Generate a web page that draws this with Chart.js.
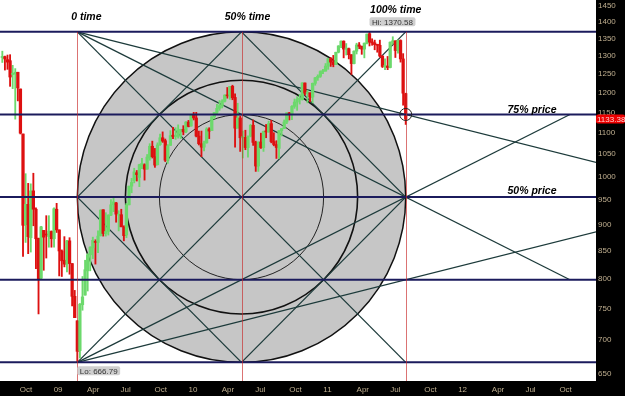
<!DOCTYPE html>
<html>
<head>
<meta charset="utf-8">
<script src="https://cdn.jsdelivr.net/npm/chart.js@4.4.0/dist/chart.umd.min.js"></script>
<style>
html, body { margin: 0; padding: 0; background: #000; }
</style>
</head>
<body>
<canvas id="myChart" width="625" height="396"></canvas>
<script>
// S&P 500 weekly bars, first bar = week ending 2008-08-15
const firstWeek = "2008-08-15";

const opens = [
  1296,1298,1290,1287,1249,1250,1255,1210,1097,900,
  941,875,969,931,874,801,889,882,877,887,
  873,931,890,850,833,826,869,827,770,730,
  684,756,772,814,843,856,868,866,879,930,
  883,887,919,940,944,919,920,895,880,940,
  979,991,1008,998,1026,1026,1016,1041,1068,1044,
  1026,1072,1088,1081,1036,1070,1094,1091,1091,1106,
  1108,1102,1126,1116,1145,1136,1092,1074,1066,1076,
  1109,1105,1139,1150,1160,1167,1178,1194,1192,1217,
  1188,1111,1136,1088,1089,1065,1092,1118,1077,1023,
  1078,1065,1103,1102,1122,1079,1072,1063,1105,1110,
  1126,1149,1146,1165,1176,1183,1183,1226,1199,1200,
  1189,1225,1240,1244,1257,1258,1272,1293,1283,1276,
  1311,1329,1343,1320,1321,1304,1279,1314,1332,1328,
  1320,1337,1365,1340,1338,1333,1331,1300,1271,1272,
  1268,1340,1344,1316,1345,1292,1198
];
const highs = [
  1314,1300,1303,1304,1274,1265,1255,1210,1097,1006,
  985,984,1007,934,874,897,889,918,918,888,
  934,943,890,852,877,870,875,827,780,730,
  758,804,833,845,858,876,871,888,930,930,
  924,920,951,956,945,928,931,898,943,979,
  996,1018,1013,1027,1040,1028,1049,1074,1080,1063,
  1076,1097,1102,1085,1072,1105,1113,1112,1119,1108,
  1117,1127,1130,1145,1150,1150,1104,1104,1080,1112,
  1112,1139,1150,1170,1180,1182,1195,1214,1217,1220,
  1197,1173,1141,1104,1106,1092,1120,1131,1080,1078,
  1099,1104,1120,1128,1130,1100,1081,1105,1110,1131,
  1149,1150,1167,1184,1190,1196,1227,1226,1207,1200,
  1226,1241,1248,1259,1263,1279,1294,1296,1302,1311,
  1330,1344,1344,1336,1323,1304,1315,1337,1339,1329,
  1338,1364,1370.58,1350,1346,1334,1346,1301,1292,1299,
  1341,1356,1344,1347,1347,1307,1199
];
const lows = [
  1282,1261,1263,1217,1211,1133,1179,1097,840,866,
  845,848,898,818,741,800,815,837,857,857,
  857,885,805,804,821,812,808,754,735,666.79,
  673,747,772,779,814,836,826,847,878,878,
  878,880,918,926,905,888,896,869,875,940,
  965,986,990,978,1017,992,1016,1036,1041,1020,
  1025,1070,1077,1033,1029,1070,1086,1084,1087,1086,
  1095,1100,1114,1116,1131,1090,1071,1044,1057,1075,
  1086,1105,1134,1145,1155,1161,1176,1186,1183,1182,
  1066,1111,1056,1041,1060,1043,1090,1070,1011,1011,
  1063,1056,1088,1101,1076,1069,1040,1040,1092,1110,
  1122,1131,1132,1160,1155,1171,1181,1194,1174,1177,
  1174,1220,1233,1241,1251,1258,1263,1271,1270,1276,
  1309,1324,1295,1303,1292,1249,1278,1306,1321,1305,
  1295,1335,1329,1331,1318,1311,1297,1268,1262,1262,
  1267,1334,1296,1308,1283,1168,1120
];
const closes = [
  1298,1292,1283,1242,1252,1255,1213,1099,899,941,
  877,969,931,873,800,896,876,880,888,873,
  932,890,850,832,826,869,827,770,735,683,
  757,769,816,843,857,870,866,878,929,883,
  887,919,940,946,921,919,896,879,940,979,
  987,1010,1004,1026,1029,1016,1043,1068,1044,1025,
  1071,1088,1080,1036,1069,1093,1091,1091,1106,1106,
  1102,1126,1115,1145,1136,1092,1074,1066,1076,1109,
  1104,1139,1150,1160,1167,1178,1194,1192,1217,1187,
  1111,1136,1088,1089,1065,1092,1118,1077,1023,1078,
  1065,1103,1102,1122,1079,1072,1065,1105,1110,1126,
  1149,1146,1165,1176,1183,1183,1226,1199,1200,1189,
  1225,1240,1244,1257,1258,1272,1293,1283,1276,1311,
  1329,1343,1320,1321,1304,1279,1314,1332,1328,1320,
  1337,1364,1340,1338,1333,1331,1300,1271,1272,1268,
  1340,1344,1316,1345,1292,1199,1133.38
];

// axis ticks
const priceTicks = [650,700,750,800,850,900,950,1000,1050,1100,1150,1200,1250,1300,1350,1400,1450];
const timeTicks = [
  "2008-10-01","2009-01-01","2009-04-01","2009-07-01","2009-10-01",
  "2010-01-01","2010-04-01","2010-07-01","2010-10-01",
  "2011-01-01","2011-04-01","2011-07-01","2011-10-01",
  "2012-01-01","2012-04-01","2012-07-01","2012-10-01"
];
const timeTickLabels = ["Oct","09","Apr","Jul","Oct","10","Apr","Jul","Oct","11","Apr","Jul","Oct","12","Apr","Jul","Oct"];

// Gann square: time from low bar to last bar, price from low to high
const hiPrice = 1370.58;
const loPrice = 666.79;
const lastPrice = 1133.38;
const time0 = "2009-03-06";
const time100 = "2011-08-12";
const levelFractions = [0, 0.25, 0.5, 0.75, 1];

// visible window (days from 2009-01-01, price)
const xMin = -145.3, xMax = 1468.1;
const yMin = 640.2, yMax = 1469.1;

const UP = "#6cd96c";
const DOWN = "#dd1010";
const TICK_COLOR = "#bfae8f";

function dayOf(str) {
    return (Date.parse(str) - Date.UTC(2009, 0, 1)) / 86400000;
}

const week0 = dayOf(firstWeek);
const candleColors = closes.map((c, i) => c >= opens[i] ? UP : DOWN);
const wickData = highs.map((h, i) => ({ x: week0 + 7 * i, y: [lows[i], h] }));
const bodyData = closes.map((c, i) => ({ x: week0 + 7 * i, y: [opens[i], c] }));

function extend(a, b, yTarget) {
    const t = (yTarget - a.y) / (b.y - a.y);
    return { x: a.x + t * (b.x - a.x), y: yTarget };
}

function geometry(chart) {
    const xs = chart.scales.x;
    const ys = chart.scales.y;
    const t0 = xs.getPixelForValue(dayOf(time0));
    const t100 = xs.getPixelForValue(dayOf(time100));
    const lv = levelFractions.map(f =>
        ys.getPixelForValue(loPrice * Math.pow(hiPrice / loPrice, f)));
    return { t0, t100, tm: (t0 + t100) / 2, lv };
}

function line(ctx, a, b) {
    ctx.beginPath();
    ctx.moveTo(a.x, a.y);
    ctx.lineTo(b.x, b.y);
    ctx.stroke();
}

function tag(ctx, text, x, y, bg, fg) {
    ctx.font = "8px 'Liberation Sans', Arial, sans-serif";
    const w = ctx.measureText(text).width + 5;
    ctx.fillStyle = bg;
    ctx.beginPath();
    ctx.roundRect(x, y - 4.5, w, 9, 2);
    ctx.fill();
    ctx.fillStyle = fg;
    ctx.textAlign = "left";
    ctx.textBaseline = "middle";
    ctx.fillText(text, x + 2.5, y + 0.5);
}

const gannPlugin = {
    id: "gann",

    beforeDraw(chart) {
        const { ctx, chartArea: a } = chart;
        ctx.save();
        ctx.fillStyle = "#000";
        ctx.fillRect(0, 0, chart.width, chart.height);
        ctx.fillStyle = "#fff";
        ctx.fillRect(a.left, a.top, a.right - a.left, a.bottom - a.top);
        ctx.restore();
    },

    beforeDatasetsDraw(chart) {
        const { ctx, chartArea: a } = chart;
        const { t0, t100, tm, lv } = geometry(chart);
        const rx = (t100 - t0) / 2;
        const ry = (lv[0] - lv[4]) / 2;

        ctx.save();
        ctx.beginPath();
        ctx.rect(a.left, a.top, a.right - a.left, a.bottom - a.top);
        ctx.clip();

        // circles
        ctx.beginPath();
        ctx.ellipse(tm, lv[2], rx, ry, 0, 0, Math.PI * 2);
        ctx.fillStyle = "#c6c6c6";
        ctx.fill();
        ctx.strokeStyle = "#111";
        ctx.lineWidth = 1.5;
        ctx.stroke();

        ctx.beginPath();
        ctx.ellipse(tm, lv[2], rx / Math.SQRT2, ry / Math.SQRT2, 0, 0, Math.PI * 2);
        ctx.lineWidth = 1.6;
        ctx.stroke();

        ctx.beginPath();
        ctx.ellipse(tm, lv[2], rx / 2, ry / 2, 0, 0, Math.PI * 2);
        ctx.lineWidth = 0.9;
        ctx.stroke();

        // diamond, diagonals and fans
        ctx.strokeStyle = "#1c3a3a";
        ctx.lineWidth = 1.3;
        const P = (x, y) => ({ x, y });
        line(ctx, P(t0, lv[2]), P(tm, lv[4]));
        line(ctx, P(tm, lv[4]), P(t100, lv[2]));
        line(ctx, P(t100, lv[2]), P(tm, lv[0]));
        line(ctx, P(tm, lv[0]), P(t0, lv[2]));
        line(ctx, P(t0, lv[4]), P(t100, lv[0]));
        line(ctx, P(t0, lv[0]), P(t100, lv[4]));

        const top = P(t0, lv[4]);
        const bot = P(t0, lv[0]);
        line(ctx, top, extend(top, P(t100, lv[3]), lv[2]));
        line(ctx, top, extend(top, P(t100, lv[2]), lv[1]));
        line(ctx, bot, extend(bot, P(t100, lv[1]), lv[2]));
        line(ctx, bot, extend(bot, P(t100, lv[2]), lv[3]));

        ctx.restore();
    },

    afterDatasetsDraw(chart) {
        const { ctx, chartArea: a } = chart;
        const { t0, t100, tm, lv } = geometry(chart);

        ctx.save();

        // price levels
        ctx.strokeStyle = "#1b1b5c";
        ctx.lineWidth = 2;
        lv.forEach(y => line(ctx, { x: a.left, y }, { x: a.right, y }));

        // time lines
        ctx.strokeStyle = "rgba(200,40,40,0.65)";
        ctx.lineWidth = 1;
        [t0, tm, t100].forEach(x =>
            line(ctx, { x: Math.round(x) + 0.5, y: lv[4] }, { x: Math.round(x) + 0.5, y: a.bottom }));

        // marker at 100% time / 75% price
        ctx.strokeStyle = "#222";
        ctx.beginPath();
        ctx.arc(t100, lv[3], 6, 0, Math.PI * 2);
        ctx.stroke();

        // titles
        ctx.fillStyle = "#000";
        ctx.font = "italic bold 10.5px 'Liberation Sans', Arial, sans-serif";
        ctx.textAlign = "center";
        ctx.textBaseline = "middle";
        ctx.fillText("0 time", t0 + 9, lv[4] - 15);
        ctx.fillText("50% time", tm + 6, lv[4] - 15);
        ctx.fillText("100% time", t100 - 10, lv[4] - 22);
        ctx.fillText("75% price", a.right - 64, lv[3] - 4);
        ctx.fillText("50% price", a.right - 64, lv[2] - 6);

        // hi / lo tags
        const xs = chart.scales.x;
        const hiIdx = highs.indexOf(hiPrice);
        const loIdx = lows.indexOf(loPrice);
        tag(ctx, "Hi: " + hiPrice.toFixed(2), xs.getPixelForValue(week0 + 7 * hiIdx), lv[4] - 10, "#cfcfcf", "#333");
        tag(ctx, "Lo: " + loPrice.toFixed(2), xs.getPixelForValue(week0 + 7 * loIdx), lv[0] + 8.5, "#cfcfcf", "#333");

        ctx.restore();
    },

    afterDraw(chart) {
        const { ctx, chartArea: a } = chart;
        const y = chart.scales.y.getPixelForValue(lastPrice);
        ctx.save();
        ctx.fillStyle = "#ee0000";
        ctx.beginPath();
        ctx.roundRect(a.right, y - 4.5, chart.width - a.right, 9, 2);
        ctx.fill();
        ctx.fillStyle = "#ffd0d0";
        ctx.font = "8px 'Liberation Sans', Arial, sans-serif";
        ctx.textAlign = "left";
        ctx.textBaseline = "middle";
        ctx.fillText(lastPrice.toFixed(2), a.right + 1, y + 0.5);
        ctx.restore();
    }
};

const ctx = document.getElementById("myChart");

const myChart = new Chart(ctx, {

    type: "bar",

    data: {
        datasets: [
            {
                data: bodyData,
                backgroundColor: candleColors,
                barThickness: 2.6,
                minBarLength: 1,
                grouped: false,
                borderWidth: 0
            },
            {
                data: wickData,
                backgroundColor: candleColors,
                barThickness: 1.2,
                grouped: false,
                borderWidth: 0
            }
        ]
    },

    options: {
        responsive: false,
        animation: false,
        devicePixelRatio: 1,
        layout: { padding: 0 },
        plugins: {
            legend: { display: false },
            tooltip: { enabled: false }
        },
        scales: {
            x: {
                type: "linear",
                min: xMin,
                max: xMax,
                offset: false,
                grid: { display: false, drawTicks: false },
                border: { display: false },
                afterBuildTicks: s => {
                    s.ticks = timeTicks.map(d => ({ value: dayOf(d) }));
                },
                afterFit: s => {
                    s.height = 15;
                    s.paddingLeft = 0;
                    s.paddingRight = 0;
                },
                ticks: {
                    align: "start",
                    autoSkip: false,
                    maxRotation: 0,
                    padding: 4,
                    color: TICK_COLOR,
                    font: { size: 8, family: "'Liberation Sans', Arial, sans-serif" },
                    callback: (v, i) => timeTickLabels[i]
                }
            },
            y: {
                type: "logarithmic",
                position: "right",
                min: yMin,
                max: yMax,
                grid: { display: false, drawTicks: false },
                border: { display: false },
                afterBuildTicks: s => {
                    s.ticks = priceTicks.map(v => ({ value: v }));
                },
                afterFit: s => {
                    s.width = 29;
                    s.paddingTop = 0;
                    s.paddingBottom = 0;
                },
                ticks: {
                    autoSkip: false,
                    padding: 2,
                    color: TICK_COLOR,
                    font: { size: 8, family: "'Liberation Sans', Arial, sans-serif" },
                    callback: v => String(v)
                }
            }
        }
    },

    plugins: [gannPlugin]

});
</script>
</body>
</html>
